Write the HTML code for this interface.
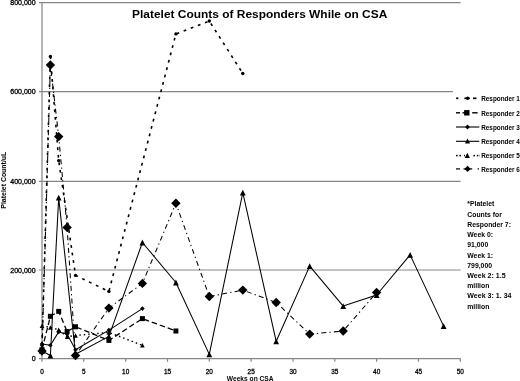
<!DOCTYPE html>
<html><head><meta charset="utf-8"><title>Platelet Counts of Responders While on CSA</title>
<style>
html,body{margin:0;padding:0;background:#fff;}
body{width:520px;height:381px;overflow:hidden;}
svg{display:block;filter:grayscale(1);}
text{font-family:"Liberation Sans",sans-serif;fill:#000;}
.tk{font-size:7px;stroke:#000;stroke-width:0.3px;}
.lg{font-size:7.3px;font-weight:bold;}
.nt{font-size:7.6px;font-weight:bold;}
.ax{font-size:7.3px;font-weight:bold;}
.ti{font-size:11.8px;font-weight:bold;}
</style></head><body>
<svg width="520" height="381" viewBox="0 0 520 381">
<rect width="520" height="381" fill="#fff"/>
<g stroke="#878787" stroke-width="1.2" fill="none">
<line x1="39" y1="358.6" x2="460.6" y2="358.6"/>
<line x1="39" y1="270.0" x2="460.6" y2="270.0"/>
<line x1="39" y1="181.4" x2="460.6" y2="181.4"/>
<line x1="39" y1="91.7" x2="453.0" y2="91.7"/>
<line x1="39" y1="2.7" x2="460.6" y2="2.7"/>
<line x1="42.0" y1="2.2" x2="42.0" y2="361.8" stroke-width="1.25"/>
<line x1="83.8" y1="358.6" x2="83.8" y2="361.8"/>
<line x1="125.7" y1="358.6" x2="125.7" y2="361.8"/>
<line x1="167.5" y1="358.6" x2="167.5" y2="361.8"/>
<line x1="209.3" y1="358.6" x2="209.3" y2="361.8"/>
<line x1="251.1" y1="358.6" x2="251.1" y2="361.8"/>
<line x1="293.0" y1="358.6" x2="293.0" y2="361.8"/>
<line x1="334.8" y1="358.6" x2="334.8" y2="361.8"/>
<line x1="376.6" y1="358.6" x2="376.6" y2="361.8"/>
<line x1="418.5" y1="358.6" x2="418.5" y2="361.8"/>
<line x1="460.3" y1="358.6" x2="460.3" y2="361.8"/>
</g>
<g fill="#000" stroke="#000">
<polyline fill="none" stroke-linejoin="round" stroke-width="1.6" stroke-dasharray="2.8 4.8" points="42.0,345.3 50.4,56.5 58.7,160.6 75.5,275.4 108.9,291.4 175.9,33.9 209.3,21.0 242.8,73.5"/>
<g stroke="none"><circle cx="42.0" cy="345.3" r="1.7"/><circle cx="50.4" cy="56.5" r="1.7"/><circle cx="58.7" cy="160.6" r="1.7"/><circle cx="75.5" cy="275.4" r="1.7"/><circle cx="108.9" cy="291.4" r="1.7"/><circle cx="175.9" cy="33.9" r="1.7"/><circle cx="209.3" cy="21.0" r="1.7"/><circle cx="242.8" cy="73.5" r="1.7"/></g>
</g>
<g fill="#000" stroke="#000">
<polyline fill="none" stroke-linejoin="round" stroke-width="1.3" stroke-dasharray="5.5 3" points="42.0,349.7 50.4,316.3 58.7,311.4 67.1,331.5 75.5,326.8 108.9,340.4 142.4,318.6 175.9,331.0"/>
<g stroke="none"><rect x="39.5" y="347.2" width="5.0" height="5.0"/><rect x="47.9" y="313.8" width="5.0" height="5.0"/><rect x="56.2" y="308.9" width="5.0" height="5.0"/><rect x="64.6" y="329.0" width="5.0" height="5.0"/><rect x="73.0" y="324.3" width="5.0" height="5.0"/><rect x="106.4" y="337.9" width="5.0" height="5.0"/><rect x="139.9" y="316.1" width="5.0" height="5.0"/><rect x="173.4" y="328.5" width="5.0" height="5.0"/></g>
</g>
<g fill="#000" stroke="#000">
<polyline fill="none" stroke-linejoin="round" stroke-width="1.05" points="42.0,343.9 50.4,345.3 58.7,331.9 67.1,334.1 75.5,349.7 108.9,330.1 142.4,308.6"/>
<g stroke="none"><path d="M42.0 341.6L44.3 343.9L42.0 346.2L39.7 343.9Z"/><path d="M50.4 343.0L52.7 345.3L50.4 347.6L48.1 345.3Z"/><path d="M58.7 329.6L61.0 331.9L58.7 334.2L56.4 331.9Z"/><path d="M67.1 331.8L69.4 334.1L67.1 336.4L64.8 334.1Z"/><path d="M75.5 347.4L77.8 349.7L75.5 352.0L73.2 349.7Z"/><path d="M108.9 327.8L111.2 330.1L108.9 332.4L106.6 330.1Z"/><path d="M142.4 306.3L144.7 308.6L142.4 310.9L140.1 308.6Z"/></g>
</g>
<g fill="#000" stroke="#000">
<polyline fill="none" stroke-linejoin="round" stroke-width="1.05" points="42.0,351.0 50.4,355.5 58.7,197.6 75.5,354.2 108.9,336.4 142.4,242.5 175.9,282.5 209.3,354.4 242.8,192.7 276.2,341.3 309.7,266.1 343.2,306.1 376.6,295.0 410.1,254.9 443.6,326.1"/>
<g stroke="none"><path d="M42.0 348.1L44.9 353.9L39.1 353.9Z"/><path d="M50.4 352.6L53.3 358.4L47.5 358.4Z"/><path d="M58.7 194.7L61.6 200.5L55.8 200.5Z"/><path d="M75.5 351.3L78.4 357.1L72.6 357.1Z"/><path d="M108.9 333.5L111.8 339.3L106.0 339.3Z"/><path d="M142.4 239.6L145.3 245.4L139.5 245.4Z"/><path d="M175.9 279.6L178.8 285.4L173.0 285.4Z"/><path d="M209.3 351.5L212.2 357.3L206.4 357.3Z"/><path d="M242.8 189.8L245.7 195.6L239.9 195.6Z"/><path d="M276.2 338.4L279.1 344.2L273.3 344.2Z"/><path d="M309.7 263.2L312.6 269.0L306.8 269.0Z"/><path d="M343.2 303.2L346.1 309.0L340.3 309.0Z"/><path d="M376.6 292.1L379.5 297.9L373.7 297.9Z"/><path d="M410.1 252.0L413.0 257.8L407.2 257.8Z"/><path d="M443.6 323.2L446.5 329.0L440.7 329.0Z"/></g>
</g>
<g fill="#000" stroke="#000">
<polyline fill="none" stroke-linejoin="round" stroke-width="1.4" stroke-dasharray="1.5 3" points="42.0,325.7 50.4,327.5 58.7,329.7 67.1,336.8 75.5,335.5 108.9,332.4 142.4,345.3"/>
<g stroke="none"><path d="M42.0 323.4L44.3 328.0L39.7 328.0Z"/><path d="M50.4 325.2L52.7 329.8L48.1 329.8Z"/><path d="M58.7 327.4L61.0 332.0L56.4 332.0Z"/><path d="M67.1 334.5L69.4 339.1L64.8 339.1Z"/><path d="M75.5 333.2L77.8 337.8L73.2 337.8Z"/><path d="M108.9 330.1L111.2 334.7L106.6 334.7Z"/><path d="M142.4 343.0L144.7 347.6L140.1 347.6Z"/></g>
</g>
<g fill="#000" stroke="#000">
<polyline fill="none" stroke-linejoin="round" stroke-width="1.05" stroke-dasharray="5 3.2 1.3 3.2" points="42.0,351.0 50.4,65.0 58.7,136.6 67.1,227.4 75.5,355.5 108.9,308.1 142.4,283.4 175.9,203.3 209.3,296.5 242.8,290.1 276.2,302.5 309.7,334.1 343.2,331.0 376.6,292.5"/>
<g stroke="none"><path d="M42.0 346.3L46.7 351.0L42.0 355.7L37.3 351.0Z"/><path d="M50.4 60.3L55.1 65.0L50.4 69.7L45.7 65.0Z"/><path d="M58.7 131.9L63.4 136.6L58.7 141.3L54.0 136.6Z"/><path d="M67.1 222.7L71.8 227.4L67.1 232.1L62.4 227.4Z"/><path d="M75.5 350.8L80.2 355.5L75.5 360.2L70.8 355.5Z"/><path d="M108.9 303.4L113.6 308.1L108.9 312.8L104.2 308.1Z"/><path d="M142.4 278.7L147.1 283.4L142.4 288.1L137.7 283.4Z"/><path d="M175.9 198.6L180.6 203.3L175.9 208.0L171.2 203.3Z"/><path d="M209.3 291.8L214.0 296.5L209.3 301.2L204.6 296.5Z"/><path d="M242.8 285.4L247.5 290.1L242.8 294.8L238.1 290.1Z"/><path d="M276.2 297.8L280.9 302.5L276.2 307.2L271.5 302.5Z"/><path d="M309.7 329.4L314.4 334.1L309.7 338.8L305.0 334.1Z"/><path d="M343.2 326.3L347.9 331.0L343.2 335.7L338.5 331.0Z"/><path d="M376.6 287.8L381.3 292.5L376.6 297.2L371.9 292.5Z"/></g>
</g>
<g fill="#000"><rect x="456.1" y="97.45" width="2.2" height="1.7"/><rect x="464.4" y="97.45" width="5.4" height="1.7"/><circle cx="467.6" cy="98.3" r="1.7"/><rect x="473.0" y="97.45" width="3.5" height="1.7"/><rect x="456.0" y="112.10" width="4.0" height="1.4"/><rect x="464.1" y="110.1" width="5.4" height="5.4"/><rect x="462.5" y="112.10" width="2.0" height="1.4"/><rect x="472.2" y="112.10" width="5.4" height="1.4"/><rect x="456.0" y="126.45" width="23.3" height="1.1"/><path d="M467.5 124.6L469.9 127.0L467.5 129.4L465.1 127.0Z"/><rect x="456.0" y="140.75" width="23.3" height="1.1"/><path d="M467.5 138.5L470.0 143.5L465.0 143.5Z"/><rect x="456.0" y="154.85" width="1.6" height="1.5"/><rect x="459.4" y="154.85" width="1.6" height="1.5"/><path d="M467.3 152.7L469.9 157.9L464.7 157.9Z"/><rect x="464.0" y="154.85" width="1.0" height="1.5"/><rect x="473.4" y="154.85" width="1.6" height="1.5"/><rect x="476.8" y="154.85" width="1.4" height="1.5"/><rect x="478.8" y="154.85" width="0.6" height="1.5"/><rect x="456.0" y="168.30" width="4.0" height="1.2"/><rect x="463.5" y="168.30" width="8.7" height="1.2"/><path d="M467.6 165.8L470.7 168.9L467.6 172.0L464.5 168.9Z"/><rect x="477.6" y="168.30" width="1.4" height="1.2"/></g>
<text transform="translate(481.20 101.10) scale(0.875 1)" text-anchor="start" class="lg">Responder 1</text>
<text transform="translate(481.20 115.60) scale(0.875 1)" text-anchor="start" class="lg">Responder 2</text>
<text transform="translate(481.20 129.80) scale(0.875 1)" text-anchor="start" class="lg">Responder 3</text>
<text transform="translate(481.20 144.10) scale(0.875 1)" text-anchor="start" class="lg">Responder 4</text>
<text transform="translate(481.20 158.40) scale(0.875 1)" text-anchor="start" class="lg">Responder 5</text>
<text transform="translate(481.20 171.70) scale(0.875 1)" text-anchor="start" class="lg">Responder 6</text>
<text transform="translate(35.60 361.20) scale(1.000 1)" text-anchor="end" class="tk">0</text>
<text transform="translate(35.60 272.60) scale(1.000 1)" text-anchor="end" class="tk">200,000</text>
<text transform="translate(35.60 184.00) scale(1.000 1)" text-anchor="end" class="tk">400,000</text>
<text transform="translate(35.60 94.30) scale(1.000 1)" text-anchor="end" class="tk">600,000</text>
<text transform="translate(35.60 5.30) scale(1.000 1)" text-anchor="end" class="tk">800,000</text>
<text transform="translate(42.00 373.80) scale(0.920 1)" text-anchor="middle" class="tk">0</text>
<text transform="translate(83.83 373.80) scale(0.920 1)" text-anchor="middle" class="tk">5</text>
<text transform="translate(125.66 373.80) scale(0.920 1)" text-anchor="middle" class="tk">10</text>
<text transform="translate(167.49 373.80) scale(0.920 1)" text-anchor="middle" class="tk">15</text>
<text transform="translate(209.32 373.80) scale(0.920 1)" text-anchor="middle" class="tk">20</text>
<text transform="translate(251.15 373.80) scale(0.920 1)" text-anchor="middle" class="tk">25</text>
<text transform="translate(292.98 373.80) scale(0.920 1)" text-anchor="middle" class="tk">30</text>
<text transform="translate(334.81 373.80) scale(0.920 1)" text-anchor="middle" class="tk">35</text>
<text transform="translate(376.64 373.80) scale(0.920 1)" text-anchor="middle" class="tk">40</text>
<text transform="translate(418.47 373.80) scale(0.920 1)" text-anchor="middle" class="tk">45</text>
<text transform="translate(460.30 373.80) scale(0.920 1)" text-anchor="middle" class="tk">50</text>
<text transform="translate(259.70 18.30) scale(1.012 1)" text-anchor="middle" class="ti">Platelet Counts of Responders While on CSA</text>
<text transform="translate(250.20 380.90) scale(0.910 1)" text-anchor="middle" class="ax">Weeks on CSA</text>
<text transform="translate(6.10 180.20) rotate(-90) scale(0.950 1)" text-anchor="middle" class="ax">Platelet Count/uL</text>
<text transform="translate(467.30 205.70) scale(0.900 1)" text-anchor="start" class="nt">*Platelet</text>
<text transform="translate(467.30 216.72) scale(0.900 1)" text-anchor="start" class="nt">Counts for</text>
<text transform="translate(467.30 226.94) scale(0.900 1)" text-anchor="start" class="nt">Responder 7:</text>
<text transform="translate(467.30 237.16) scale(0.900 1)" text-anchor="start" class="nt">Week 0:</text>
<text transform="translate(467.30 247.38) scale(0.900 1)" text-anchor="start" class="nt">91,000</text>
<text transform="translate(467.30 257.60) scale(0.900 1)" text-anchor="start" class="nt">Week 1:</text>
<text transform="translate(467.30 267.82) scale(0.900 1)" text-anchor="start" class="nt">799,000</text>
<text transform="translate(467.30 278.04) scale(0.930 1)" text-anchor="start" class="nt">Week 2: 1.5</text>
<text transform="translate(467.30 288.26) scale(0.900 1)" text-anchor="start" class="nt">million</text>
<text transform="translate(467.30 298.48) scale(0.930 1)" text-anchor="start" class="nt">Week 3: 1. 34</text>
<text transform="translate(467.30 308.70) scale(0.900 1)" text-anchor="start" class="nt">million</text>
</svg>
</body></html>
